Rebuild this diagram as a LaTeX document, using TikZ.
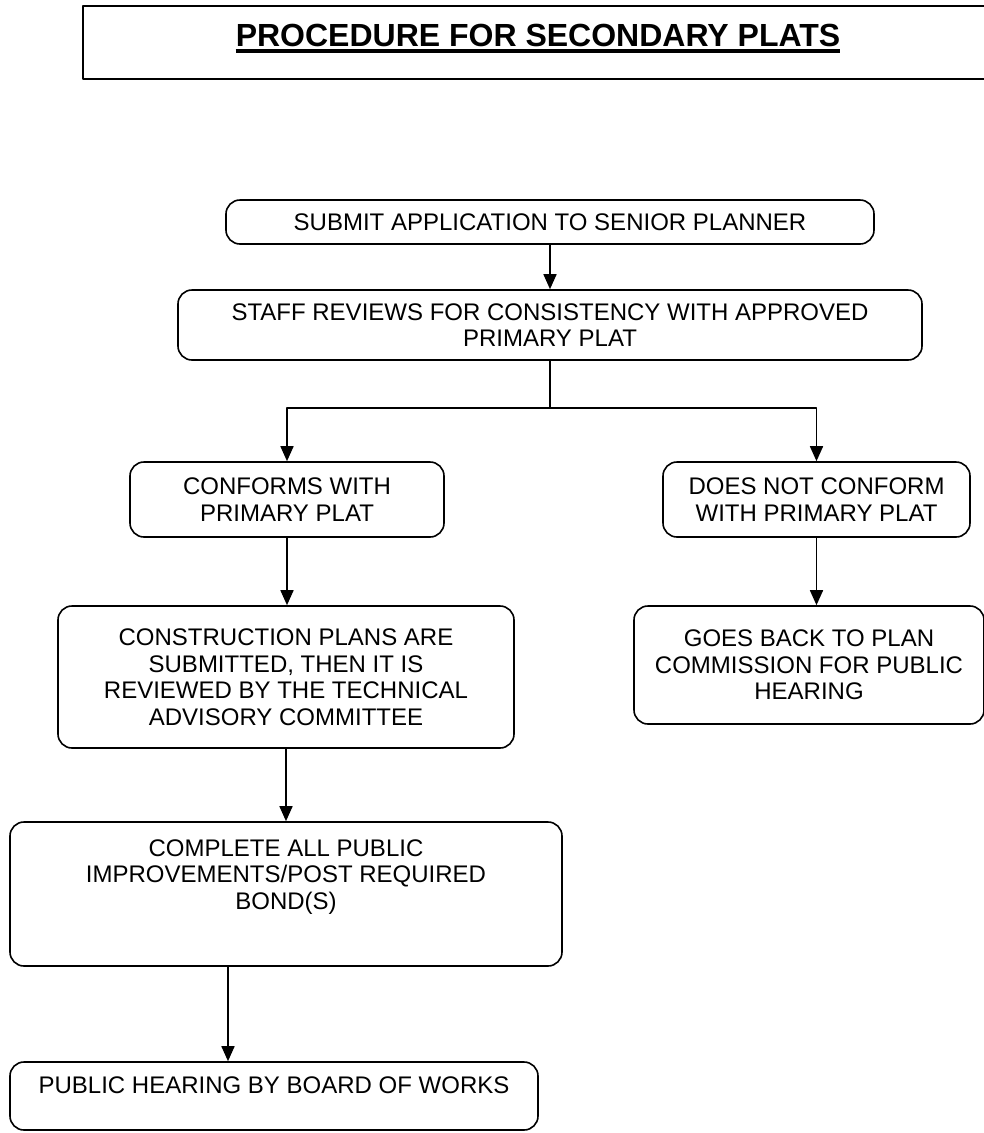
\documentclass[tikz,border=0pt]{standalone}
\usepackage{fontspec}
\setmainfont{Liberation Sans}
\usetikzlibrary{arrows.meta}

\tikzset{
  stepbox/.style={draw, rounded corners=14pt, line width=1.6pt, align=center,
    font=\fontsize{24}{26.5}\selectfont, inner sep=0pt},
  flow/.style={->, line width=1.6pt},
}

\begin{document}
\begin{tikzpicture}[x=1pt, y=-1pt, line join=round, >={Triangle[width=13pt,length=15pt]}]
	\useasboundingbox (0,0) rectangle (984,1133);
	% title
	\node[draw, line width=1.6pt, anchor=north west, minimum width=960pt, minimum height=73pt] (title) at (82,5) {};
	\node[anchor=base, inner sep=0pt, font=\bfseries\fontsize{32}{36}\selectfont] (titletext) at (538,46) {PROCEDURE FOR SECONDARY PLATS};
	\draw[line width=4pt] (titletext.base west) ++(0,4.5) coordinate (ul1) -- (ul1 -| titletext.base east);
	% steps
	\node[stepbox, minimum width=648pt, minimum height=44pt] (submit) at (550,222) {SUBMIT APPLICATION TO SENIOR PLANNER};
	\node[stepbox, minimum width=744pt, minimum height=70pt] (staff) at (550,325) {STAFF REVIEWS FOR CONSISTENCY WITH APPROVED\\PRIMARY PLAT};
	\node[stepbox, minimum width=314pt, minimum height=75pt] (conforms) at (287,499.5) {CONFORMS WITH\\PRIMARY PLAT};
	\node[stepbox, minimum width=307pt, minimum height=75pt] (notconform) at (816.5,499.5) {DOES NOT CONFORM\\WITH PRIMARY PLAT};
	\node[stepbox, minimum width=456pt, minimum height=142pt] (construction) at (286,677) {CONSTRUCTION PLANS ARE\\SUBMITTED, THEN IT IS\\REVIEWED BY THE TECHNICAL\\ADVISORY COMMITTEE};
	\node[stepbox, minimum width=350pt, minimum height=118pt] (goesback) at (809,665) {GOES BACK TO PLAN\\COMMISSION FOR PUBLIC\\HEARING};
	\node[stepbox, minimum width=552pt, minimum height=144pt] (complete) at (286,894) {};
	\node[align=center, font=\fontsize{24}{26.5}\selectfont, inner sep=0pt] (completetext) at (286,877) {COMPLETE ALL PUBLIC\\IMPROVEMENTS/POST REQUIRED\\BOND(S)};
	\node[stepbox, minimum width=528pt, minimum height=68pt] (public) at (274,1096) {};
	\node[font=\fontsize{24}{26.5}\selectfont, inner sep=0pt] (publictext) at (274,1085) {PUBLIC HEARING BY BOARD OF WORKS};
	% arrows
	\draw[flow] (submit) -- (staff);
	\draw[line width=1.6pt] (staff.south) -- ++(0,47) coordinate (split);
	\draw[flow] (split) -| (conforms.north);
	\draw[flow] (split) -| (notconform.north);
	\draw[flow] (conforms.south) -- (conforms.south |- construction.north);
	\draw[flow] (notconform.south) -- (notconform.south |- goesback.north);
	\draw[flow] (construction.south) -- (construction.south |- complete.north);
	\draw[flow] ([xshift=-58pt]complete.south) coordinate (c1) -- (c1 |- public.north);
\end{tikzpicture}
\end{document}
